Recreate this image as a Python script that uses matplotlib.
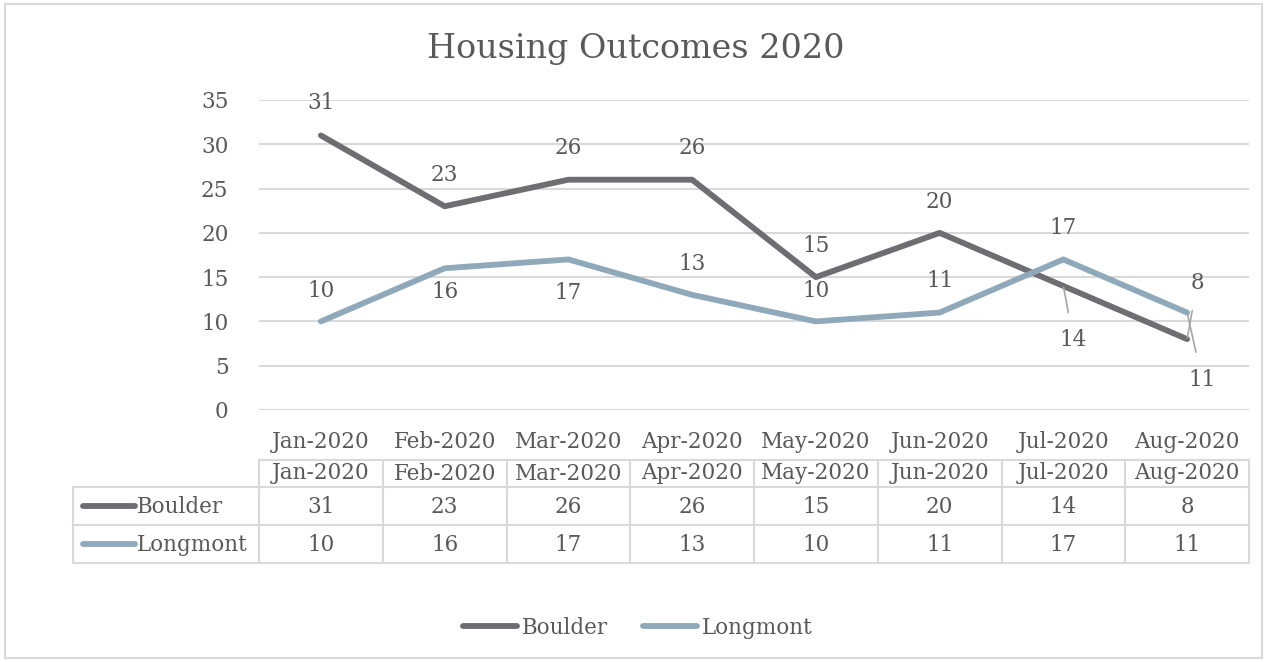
import numpy as np
import matplotlib
matplotlib.use('Agg')
from matplotlib import pyplot as plt
from matplotlib.lines import Line2D
from matplotlib.patches import Rectangle

months = ['Jan-2020', 'Feb-2020', 'Mar-2020', 'Apr-2020',
          'May-2020', 'Jun-2020', 'Jul-2020', 'Aug-2020']
boulder = [31, 23, 26, 26, 15, 20, 14, 8]
longmont = [10, 16, 17, 13, 10, 11, 17, 11]

c_boulder = '#6e6d72'
c_longmont = '#90a9ba'
c_text = '#595959'
c_grid = '#d9d9d9'

# label offsets in pixels (dx, dy), leader flag
off_b = [(0, 32), (0, 31), (0, 32), (0, 32), (0, 31), (0, 31), (10, -54), (10, 56)]
off_l = [(0, 30), (0, -24), (0, -34), (0, 31), (0, 30), (0, 32), (0, 31), (15, -67)]
lead_b = [False]*6 + [True, True]
lead_l = [False]*7 + [True]

plt.rcParams['font.family'] = ['DejaVu Serif']
plt.rcParams['text.color'] = c_text
fs = 15.5

W, H = 1266, 662
fig = plt.figure(figsize=(W/100, H/100), dpi=100)

def box(x0, y0, x1, y1):
    # pixel box (top-left origin) -> figure fraction rect
    return [x0/W, 1 - y1/H, (x1-x0)/W, (y1-y0)/H]

# outer border
fig.patches.append(Rectangle((5/W, 4/H), 1257/W, 654/H, transform=fig.transFigure,
                             fill=False, edgecolor=c_grid, lw=1.5))

fig.text(636/W, 1 - 49/H, 'Housing Outcomes 2020', ha='center', va='center',
         fontsize=24, color=c_text)

ax = fig.add_axes(box(259, 100, 1249, 410))
x = np.arange(len(months))
ax.plot(x, boulder, color=c_boulder, lw=4.2, solid_capstyle='round', solid_joinstyle='round',
        label='Boulder', zorder=3)
ax.plot(x, longmont, color=c_longmont, lw=4.2, solid_capstyle='round', solid_joinstyle='round',
        label='Longmont', zorder=3)
ax.set_xlim(-0.5, len(months) - 0.5)
ax.set_ylim(0, 35)
ax.set_yticks(range(0, 36, 5))
ax.yaxis.grid(True, color=c_grid, lw=1.5)
ax.set_axisbelow(True)
for s in ax.spines.values():
    s.set_visible(False)
ax.tick_params(axis='y', length=0, pad=22, labelsize=fs, labelcolor=c_text)
ax.set_xticks(x)
ax.set_xticklabels(months)
ax.tick_params(axis='x', length=0, pad=15, labelsize=fs, labelcolor=c_text)

for series, offs, leads in [(boulder, off_b, lead_b), (longmont, off_l, lead_l)]:
    for i, v in enumerate(series):
        dx, dy = offs[i]
        if leads[i]:
            ax.annotate(str(v), (i, v), xytext=(dx, dy), textcoords='offset pixels',
                        ha='center', va='center', fontsize=fs, color=c_text,
                        arrowprops=dict(arrowstyle='-', color='#a6a6a6', lw=1.2,
                                        shrinkA=10, shrinkB=1), zorder=4)
        else:
            ax.annotate(str(v), (i, v), xytext=(dx, dy), textcoords='offset pixels',
                        ha='center', va='center', fontsize=fs, color=c_text, zorder=4)

# data table
tb = fig.add_axes(box(259, 460, 1249, 563))
tb.set_xlim(-0.5, len(months) - 0.5)
tb.set_ylim(103, 0)
tb.axis('off')
left = -0.5 - 186/123.75
rows_y = [0, 27, 65, 103]
kw = dict(color=c_grid, lw=1.5, clip_on=False)
tb.plot([-0.5, 7.5], [0, 0], **kw)
for yy in rows_y[1:]:
    tb.plot([left, 7.5], [yy, yy], **kw)
for i in range(len(months) + 1):
    tb.plot([i - 0.5, i - 0.5], [0, 103], **kw)
tb.plot([left, left], [27, 103], **kw)
for i, m in enumerate(months):
    tb.text(i, 13.5, m, ha='center', va='center', fontsize=fs, color=c_text)
    tb.text(i, 47, str(boulder[i]), ha='center', va='center', fontsize=fs, color=c_text)
    tb.text(i, 85, str(longmont[i]), ha='center', va='center', fontsize=fs, color=c_text)
for yy, name, col in [(47, 'Boulder', c_boulder), (85, 'Longmont', c_longmont)]:
    tb.add_line(Line2D([left + 0.08, left + 0.5], [yy - 1, yy - 1], color=col, lw=4.2,
                       solid_capstyle='round', clip_on=False))
    tb.text(left + 0.52, yy, name, ha='left', va='center', fontsize=fs, color=c_text,
            clip_on=False)

fig.legend(loc='center', bbox_to_anchor=(638/W, 1 - 628/H), ncol=2, frameon=False,
           fontsize=fs, handlelength=2.5, handletextpad=0.25, columnspacing=1.6)

plt.savefig('out.png', dpi=100)
